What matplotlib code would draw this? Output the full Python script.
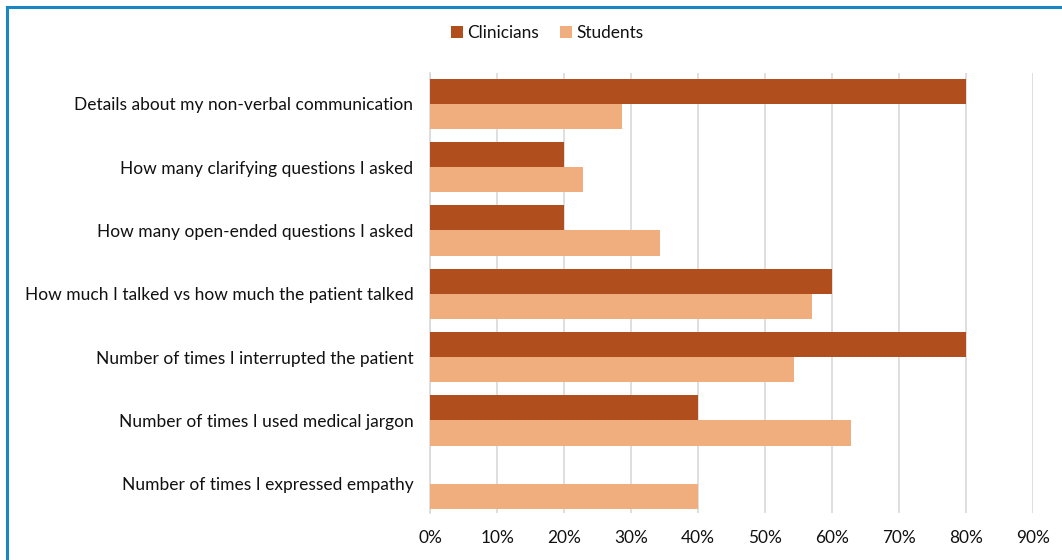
import matplotlib.pyplot as plt
import numpy as np

# Share of each group reporting the item (%)
categorias = [
    "Details about my non-verbal communication",
    "How many clarifying questions I asked",
    "How many open-ended questions I asked",
    "How much I talked vs how much the patient talked",
    "Number of times I interrupted the patient",
    "Number of times I used medical jargon",
    "Number of times I expressed empathy",
]
clinicos = [80, 20, 20, 60, 80, 40, 0]
estudantes = [28.6, 22.9, 34.3, 57.1, 54.3, 62.9, 40.0]
ticks_x = [0, 10, 20, 30, 40, 50, 60, 70, 80, 90]

cor_clin = "#B04F1D"
cor_est = "#F0AE7F"

plt.rcParams['font.family'] = ['Lato', 'DejaVu Sans']

fig = plt.figure(figsize=(10.62, 5.6), dpi=100)
ax = fig.add_axes([0.405, 0.084, 0.5675, 0.786])

y = np.arange(len(categorias))
h = 0.395
ax.barh(y - h / 2, clinicos, height=h, color=cor_clin, label="Clinicians", zorder=3)
ax.barh(y + h / 2, estudantes, height=h, color=cor_est, label="Students", zorder=3)

ax.set_xlim(0, 90)
ax.set_ylim(6.46, -0.49)
ax.set_xticks(ticks_x)
ax.set_xticklabels([f"{t}%" for t in ticks_x], fontsize=12.4, color="#111111")
ax.set_yticks(y)
ax.set_yticklabels(categorias, fontsize=12.5, color="#111111")
ax.tick_params(axis='both', length=0)
ax.tick_params(axis='x', pad=12)
ax.tick_params(axis='y', pad=12)
ax.grid(axis='x', color="#d9d9d9", linewidth=1.2, zorder=0)
for s in ["top", "right", "bottom"]:
    ax.spines[s].set_visible(False)
ax.spines["left"].set_color("#d9d9d9")
ax.spines["left"].set_linewidth(1.2)

fig.legend(loc="center", bbox_to_anchor=(0.515, 0.941), ncol=2, frameon=False,
           fontsize=12.4, handlelength=0.7, handleheight=0.7, handletextpad=0.25,
           columnspacing=1.2, labelcolor="#111111")

# moldura azul (topo e esquerda)
fig.add_artist(plt.Line2D([0.0066, 1.0], [0.9875, 0.9875], color="#1B87C2", linewidth=2.2,
                          transform=fig.transFigure))
fig.add_artist(plt.Line2D([0.0066, 0.0066], [0.0, 0.9875], color="#1B87C2", linewidth=2.2,
                          transform=fig.transFigure))

fig.savefig("out.png", dpi=100)
